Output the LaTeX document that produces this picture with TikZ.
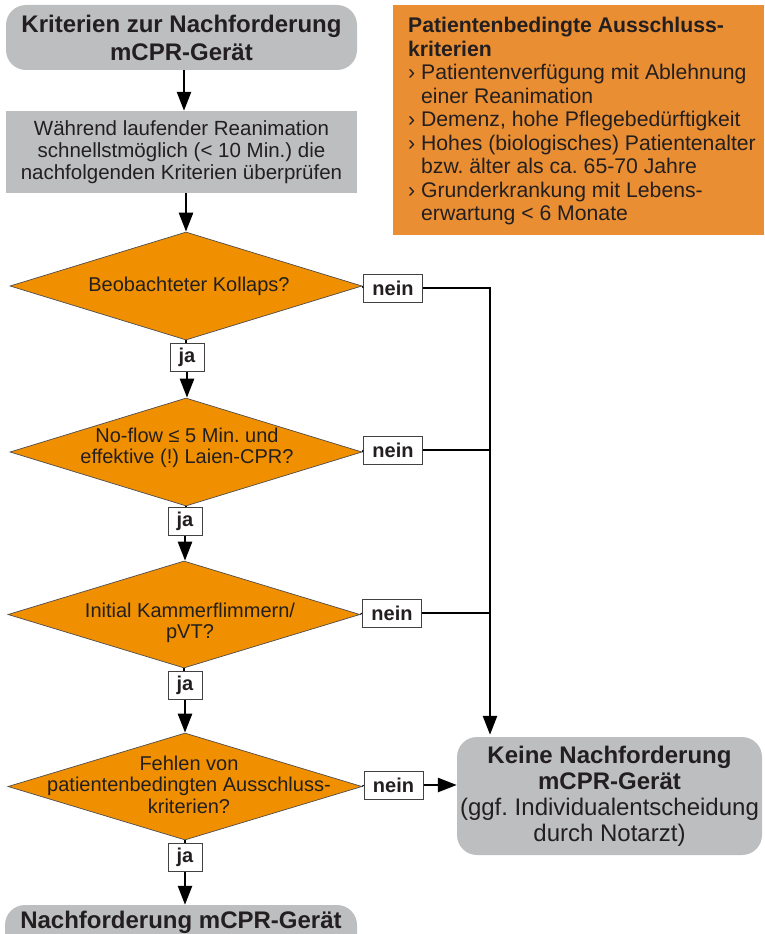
\documentclass[tikz,border=0pt]{standalone}
\usepackage{fontspec}
\setmainfont{Liberation Sans}
\usetikzlibrary{arrows.meta,shapes.geometric,calc}
\definecolor{boxgray}{HTML}{BDBEC0}
\definecolor{decorange}{HTML}{F09000}
\definecolor{infoorange}{HTML}{EA8E33}
\definecolor{ink}{HTML}{231F20}
\frenchspacing
\begin{document}
\begin{tikzpicture}[x=1pt,y=-1pt,
  every node/.style={text=ink},
  titlebox/.style={fill=boxgray,rounded corners=20pt,inner sep=0pt,align=center,
    font=\fontsize{24}{28}\selectfont\bfseries},
  infobox/.style={fill=boxgray,inner sep=0pt,align=center,
    font=\fontsize{20.5}{22}\selectfont},
  decision/.style={shape=diamond,fill=decorange,draw=ink!80,line width=0.7pt,inner sep=0pt},
  qtext/.style={align=center,inner sep=0pt,font=\fontsize{20}{21.5}\selectfont},
  tag/.style={fill=white,draw=ink!85,line width=1pt,inner sep=0pt,
    font=\fontsize{20}{22}\selectfont\bfseries},
  flow/.style={draw=black,line width=2.6pt},
  flowarrow/.style={flow,-{Triangle[length=19pt,width=14pt]}},
]
\useasboundingbox (0,0) rectangle (764,934);

% start and first instruction
\node[titlebox,minimum width=351pt,minimum height=65pt] (start) at (181.5,37.5)
  {Kriterien zur Nachforderung\\mCPR-Gerät};
\node[infobox,minimum width=351pt,minimum height=82pt] (check) at (181.5,152)
  {Während laufender Reanimation\\schnellstmöglich (< 10 Min.) die\\nachfolgenden Kriterien überprüfen};

% exclusion criteria panel
\node[fill=infoorange,minimum width=371pt,minimum height=230pt,inner sep=0pt] (excl) at (578.5,120) {};
\node[anchor=north west,align=left,inner sep=0pt,font=\fontsize{21.2}{23.5}\selectfont] (excltext) at (408,17)
  {\textbf{Patientenbedingte Ausschluss-}\\
   \textbf{kriterien}\\
   › Patientenverfügung mit Ablehnung\\
   \phantom{› }einer Reanimation\\
   › Demenz, hohe Pflegebedürftigkeit\\
   › Hohes (biologisches) Patientenalter\\
   \phantom{› }bzw. älter als ca. 65-70 Jahre\\
   › Grunderkrankung mit Lebens-\\
   \phantom{› }erwartung < 6 Monate};

% decisions
\node[decision,minimum width=352pt,minimum height=108pt] (d1) at (186,286) {};
\node[qtext] (q1) at (189,286) {Beobachteter Kollaps?};
\node[decision,minimum width=352pt,minimum height=108pt] (d2) at (186,452) {};
\node[qtext] (q2) at (187,448) {No-flow ≤ 5 Min. und\\effektive (!) Laien-CPR?};
\node[decision,minimum width=352pt,minimum height=107pt] (d3) at (184,614.5) {};
\node[qtext] (q3) at (190,623) {Initial Kammerflimmern/\\pVT?};
\node[decision,minimum width=354pt,minimum height=107pt] (d4) at (185,786.5) {};
\node[qtext] (q4) at (189,784.5) {Fehlen von\\patientenbedingten Ausschluss-\\kriterien?};

% answer tags
\node[tag,minimum width=59pt,minimum height=28pt] (n1) at (393,288) {nein};
\node[tag,minimum width=59pt,minimum height=28pt] (n2) at (393,450) {nein};
\node[tag,minimum width=59pt,minimum height=28pt] (n3) at (392,613) {nein};
\node[tag,minimum width=59pt,minimum height=28pt] (n4) at (393.5,785) {nein};
\node[tag,minimum width=34pt,minimum height=28pt] (j1) at (187,357) {ja};
\node[tag,minimum width=34pt,minimum height=28pt] (j2) at (185,521) {ja};
\node[tag,minimum width=34pt,minimum height=28pt] (j3) at (185,685.5) {ja};
\node[tag,minimum width=34pt,minimum height=28pt] (j4) at (185,857) {ja};

% outcomes
\node[titlebox,minimum width=305pt,minimum height=118pt,
  font=\fontsize{24}{26}\selectfont] (none) at (609.5,796)
  {\textbf{Keine Nachforderung}\\\textbf{mCPR-Gerät}\\(ggf. Individualentscheidung\\durch Notarzt)};
\node[titlebox,minimum width=352pt,minimum height=70pt,
  label={[font=\fontsize{24}{28}\selectfont\bfseries,yshift=18pt]center:Nachforderung mCPR-Gerät}] (req) at (181,940) {};

\coordinate (bus) at (490,288);

% main flow
\draw[flowarrow] (start.south -| 184,0) -- (check.north -| 184,0);
\draw[flowarrow] (check.south -| d1.north) -- (d1.north);
\draw[flow] (d1.south) -- (j1.north -| d1.south);
\draw[flowarrow] (j1.south) -- (d2.north -| j1.south);
\draw[flow] (d2.south) -- (j2.north -| d2.south);
\draw[flowarrow] (j2.south) -- (d3.north -| j2.south);
\draw[flow] (d3.south) -- (j3.north -| d3.south);
\draw[flowarrow] (j3.south) -- (d4.north -| j3.south);
\draw[flow] (d4.south) -- (j4.north -| d4.south);
\draw[flowarrow] (j4.south) -- (req.north -| j4.south);

% "nein" branches
\draw[flow,line width=1pt] (d1.east) -- (n1.west);
\draw[flow,line width=1pt] (d2.east) -- (n2.west);
\draw[flow,line width=1pt] (d3.east) -- (n3.west);
\draw[flow,line width=1pt] (d4.east) -- (n4.west);
\draw[flowarrow] (n1.east) -- (bus) -- ($(bus |- none.north)+(0,-2)$);
\draw[flow] (n2.east) -- (n2.east -| bus);
\draw[flow] (n3.east) -- (n3.east -| bus);
\draw[flowarrow] (n4.east) -- (none.west |- n4.east);
\end{tikzpicture}
\end{document}
